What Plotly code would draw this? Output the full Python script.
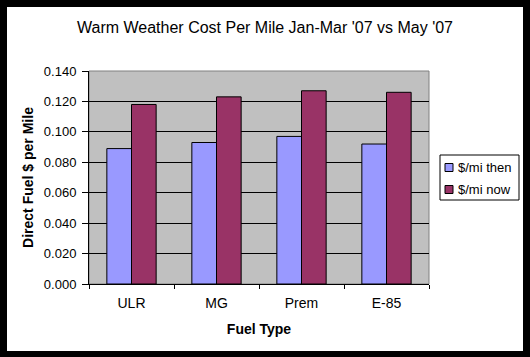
import plotly.graph_objects as go

categories = ["ULR", "MG", "Prem", "E-85"]
then_vals = [0.089, 0.093, 0.097, 0.092]
now_vals = [0.118, 0.123, 0.127, 0.126]
series_names = ["$/mi then", "$/mi now"]
series_colors = ["#9999FF", "#993366"]
y_ticks = [0.0, 0.02, 0.04, 0.06, 0.08, 0.10, 0.12, 0.14]

W, H = 530, 357
L, R, T, B = 89, 429, 71, 284  # plot area in px
pw, ph = R - L, B - T

def px_x(x):
    return (x - L) / pw

def px_y(y):
    return (B - y) / ph

FONT = "Liberation Sans, Arial, sans-serif"

fig = go.Figure()
for name, vals, col in zip(series_names, [then_vals, now_vals], series_colors):
    fig.add_trace(go.Bar(x=categories, y=vals, name=name,
                         marker=dict(color=col, line=dict(color="black", width=1))))

shapes = []
annotations = []
# plot area border (gray)
shapes.append(dict(type="rect", xref="paper", yref="paper", x0=0, x1=1, y0=0, y1=1,
                   line=dict(color="#808080", width=1), layer="below"))
# manual legend box
shapes.append(dict(type="rect", xref="paper", yref="paper",
                   x0=px_x(440), x1=px_x(519), y0=px_y(200), y1=px_y(155),
                   fillcolor="white", line=dict(color="black", width=1), layer="above"))
for i, (name, col) in enumerate(zip(series_names, series_colors)):
    cy = 167.5 + i * 22
    shapes.append(dict(type="rect", xref="paper", yref="paper",
                       x0=px_x(445), x1=px_x(453), y0=px_y(cy + 4), y1=px_y(cy - 4),
                       fillcolor=col, line=dict(color="black", width=1), layer="above"))
    annotations.append(dict(text=name, xref="paper", yref="paper",
                            x=px_x(456), y=px_y(cy), xanchor="left", yanchor="middle",
                            showarrow=False, font=dict(family=FONT, size=13, color="black")))
# black frame around whole image
for (x0, x1, y0, y1) in [(0, 7, 0, H), (523, W, 0, H), (0, W, 0, 7), (0, W, 351, H)]:
    shapes.append(dict(type="rect", xref="paper", yref="paper",
                       x0=px_x(x0), x1=px_x(x1), y0=px_y(y1), y1=px_y(y0),
                       fillcolor="black", line=dict(width=0), layer="above"))

fig.update_layout(
    width=W, height=H,
    margin=dict(l=L, r=W - R, t=T, b=H - B, pad=0),
    paper_bgcolor="white",
    plot_bgcolor="#C0C0C0",
    font=dict(family=FONT, size=13, color="black"),
    title=dict(text="Warm Weather Cost Per Mile Jan-Mar '07 vs May '07",
               x=0.5, xanchor="center", y=1 - 27 / H, yanchor="middle",
               font=dict(family=FONT, size=16, color="black")),
    barmode="group",
    bargap=0.42,
    bargroupgap=0,
    showlegend=False,
    shapes=shapes,
    annotations=annotations,
)

fig.update_xaxes(
    showline=True, linecolor="black", linewidth=1,
    ticks="outside", tickson="boundaries", ticklen=4, tickcolor="black",
    showgrid=False,
    title=dict(text="<b>Fuel Type</b>", font=dict(family=FONT, size=14), standoff=14),
    tickfont=dict(family=FONT, size=14),
    ticklabelstandoff=6,
)
fig.update_yaxes(
    range=[0, 0.14], tickvals=y_ticks, tickformat=".3f",
    showline=True, linecolor="black", linewidth=1,
    ticks="outside", ticklen=6, tickcolor="black",
    showgrid=True, gridcolor="black", gridwidth=1,
    zeroline=False,
    title=dict(text="<b>Direct Fuel $ per Mile</b>", font=dict(family=FONT, size=14), standoff=6),
    tickfont=dict(family=FONT, size=13),
    ticklabelstandoff=3,
)

fig.write_html("out.html",
               config={"displayModeBar": False},
               post_script="document.body.style.margin='0';document.body.style.overflow='hidden';")
